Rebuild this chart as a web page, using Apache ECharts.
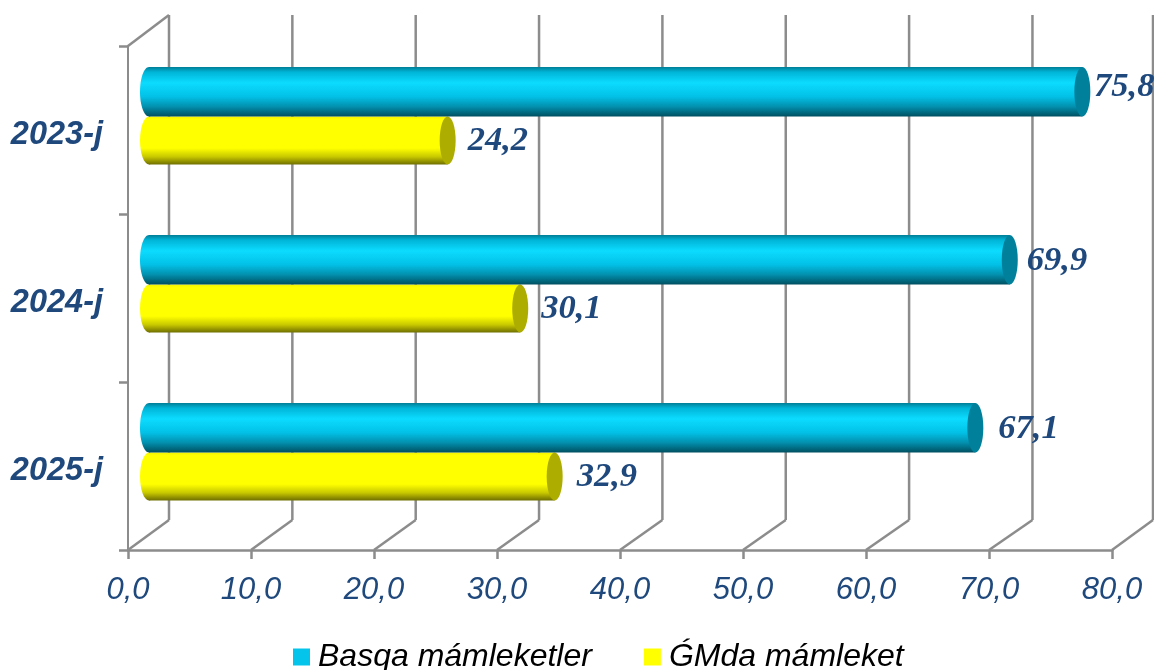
<!DOCTYPE html>
<html><head><meta charset="utf-8">
<style>html,body{margin:0;padding:0;background:#fff;overflow:hidden}#c{width:1154px;height:670px}</style>
<script src="https://cdn.jsdelivr.net/npm/echarts@6/dist/echarts.min.js"></script>
</head><body><div id="c"></div>
<script>
const categories = ['2023-j', '2024-j', '2025-j'];
const otherCountries = [75.8, 69.9, 67.1];
const cisCountry = [24.2, 30.1, 32.9];
const axisTicks = [0, 10, 20, 30, 40, 50, 60, 70, 80];
const seriesNames = ['Basqa mámleketler', 'ǴMda mámleket'];

const chart = echarts.init(document.getElementById('c'), null, {renderer: 'canvas'});
const GREY = '#8c8c8c', BLUE = '#1f497d';
const DX = 41, DY = 30, SHIFT = 22, RX = 8, PERSP = 0.035, EDGE = 1153;

function grad(stops) {
  return {type: 'linear', x: 0, y: 0, x2: 0, y2: 1,
    colorStops: stops.map(s => ({offset: s[0], color: s[1]}))};
}
const cyanGrad = grad([[0, '#007d96'], [0.1, '#00b4d6'], [0.32, '#0cdcff'], [0.6, '#02c0e6'], [0.8, '#0290ae'], [1, '#004f60']]);
const yellowGrad = grad([[0, '#f4f400'], [0.06, '#ffff00'], [0.66, '#ffff00'], [0.84, '#c8c800'], [1, '#6e6e00']]);

function barRenderer(top, h, fill, cap, nudge, lift) {
  return function (params, api) {
    const p = api.coord([api.value(0), api.value(1)]);
    const z = api.coord([0, api.value(1)]);
    const y = p[1] + top, cy = y + h / 2;
    const x0 = z[0] + SHIFT, x1 = p[0] + SHIFT;
    const tx = Math.min(x1 + nudge[api.value(1)], 1094);
    return {type: 'group', children: [
      {type: 'ellipse', shape: {cx: x0 - 1, cy: cy, rx: RX + 1, ry: h / 2}, style: {fill: fill}},
      {type: 'rect', shape: {x: x0 - 1, y: y, width: x1 - x0 + 1, height: h}, style: {fill: fill}},
      {type: 'ellipse', shape: {cx: x1, cy: cy, rx: RX, ry: h / 2}, style: {fill: cap}},
      {type: 'text', x: tx, y: cy + lift[api.value(1)], style: {
        text: api.value(0).toFixed(1).replace('.', ','),
        font: 'italic bold 34.5px "Liberation Serif"', fill: BLUE,
        textAlign: 'left', textVerticalAlign: 'middle'}}
    ]};
  };
}
function wallRenderer(params, api) {
  const cs = params.coordSys;
  const v = api.value(0);
  const x = api.coord([v, 0])[0];
  const xb = Math.min(x + DX + v * PERSP, EDGE);
  const yb = cs.y + cs.height, yt = cs.y;
  const st = {stroke: GREY, lineWidth: 2.5, fill: 'none'};
  const kids = [
    {type: 'line', shape: {x1: x, y1: yb, x2: xb, y2: yb - DY}, style: st},
    {type: 'line', shape: {x1: xb, y1: yb - DY, x2: xb, y2: yt - DY - 1}, style: st}
  ];
  if (v === 0) kids.push({type: 'line', shape: {x1: x, y1: yt, x2: xb, y2: yt - DY - 1}, style: st});
  return {type: 'group', children: kids};
}

chart.setOption({
  animation: false,
  backgroundColor: '#fff',
  grid: {left: 128, right: 42, top: 46, height: 504, containLabel: false},
  legend: {
    data: seriesNames, left: 288, top: 636, icon: 'rect', itemWidth: 17, itemHeight: 17, itemGap: 52,
    selectedMode: false,
    textStyle: {fontFamily: 'Liberation Sans', fontStyle: 'italic', fontSize: 32, color: '#000', padding: [0, 0, 0, 3]}
  },
  xAxis: {
    type: 'value', min: 0, max: 80, interval: 10,
    axisLine: {show: true, lineStyle: {color: GREY, width: 2.5}},
    axisTick: {show: true, length: 9, lineStyle: {color: GREY, width: 2.5}},
    splitLine: {show: false},
    axisLabel: {margin: 25, fontFamily: 'Liberation Sans', fontStyle: 'italic', fontSize: 31, color: BLUE,
      hideOverlap: false, showMinLabel: true, showMaxLabel: true,
      formatter: v => v.toFixed(1).replace('.', ',')}
  },
  yAxis: {
    type: 'category', inverse: true, data: categories,
    axisLine: {show: true, onZero: false, lineStyle: {color: GREY, width: 2}},
    axisTick: {show: true, length: 9, alignWithLabel: false, lineStyle: {color: GREY, width: 2.5}},
    axisLabel: {margin: 25, formatter: v => '{a|' + v + '}',
      rich: {a: {padding: [10, 0, 0, 0], fontFamily: 'Liberation Sans', fontStyle: 'italic', fontWeight: 'bold', fontSize: 32.5, color: BLUE}}}
  },
  series: [
    {type: 'custom', name: 'wall', coordinateSystem: 'cartesian2d', silent: true, z: 1,
      data: axisTicks.map(t => [t, 0]), encode: {x: 0, y: 1}, renderItem: wallRenderer},
    {type: 'custom', name: seriesNames[1], z: 3, itemStyle: {color: '#ffff00'},
      data: cisCountry.map((v, i) => [v, i]), encode: {x: 0, y: 1},
      renderItem: barRenderer(-13.5, 48, yellowGrad, '#adad00', [20, 21, 22], [1, 1, 1])},
    {type: 'custom', name: seriesNames[0], z: 4, itemStyle: {color: '#04c4ec'},
      data: otherCountries.map((v, i) => [v, i]), encode: {x: 0, y: 1},
      renderItem: barRenderer(-63, 49.5, cyanGrad, '#01809c', [12, 17, 23], [-5, 1, 1])}
  ]
});
</script></body></html>
